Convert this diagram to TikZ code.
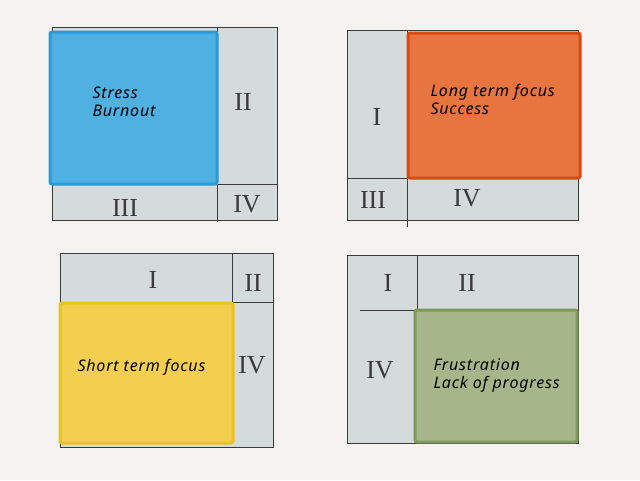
\documentclass[tikz,border=0pt]{standalone}
\usepackage{fontspec}
\setmainfont{Liberation Serif}
\newfontfamily\handfont[LetterSpace=5]{Noto Sans}
\definecolor{bg}{HTML}{F4F3F1}
\definecolor{panelgray}{HTML}{D5DADB}
\definecolor{lineink}{HTML}{3A3A3A}
\definecolor{bluefill}{HTML}{4FB0E2}
\definecolor{blueedge}{HTML}{2A9BD8}
\definecolor{orangefill}{HTML}{E8743F}
\definecolor{orangeedge}{HTML}{D84A12}
\definecolor{yellowfill}{HTML}{F4CE4E}
\definecolor{yellowedge}{HTML}{E9C21F}
\definecolor{greenfill}{HTML}{A6B68A}
\definecolor{greenedge}{HTML}{7D995A}
\tikzset{
  panel/.style={fill=panelgray, draw=lineink, line width=0.9pt},
  divider/.style={draw=lineink, line width=0.9pt},
  hot/.style={line width=3pt, rounded corners=2pt},
  numeral/.style={font=\fontsize{26}{28}\selectfont, text=lineink},
  label/.style={font=\handfont\itshape\fontsize{16}{18}\selectfont, text=black, align=left, anchor=west}
}
\begin{document}
\begin{tikzpicture}[x=1pt,y=-1pt]
\useasboundingbox (0,0) rectangle (640,480);
\fill[bg] (0,0) rectangle (640,480);

% ---------- Panel 1 (top-left) ----------
\path[panel] (52,27) rectangle (277,220);
\draw[divider] (52,184) -- (277,184);
\draw[divider] (217,27) -- (217,222);
\path[hot, fill=bluefill, draw=blueedge] (50,32) rectangle (217,184);
\node[label] (p1text) at (89,102) {Stress\\Burnout};
\node[numeral] (p1two) at (243,102) {II};
\node[numeral] (p1three) at (125,208) {III};
\node[numeral] (p1four) at (247,204) {IV};

% ---------- Panel 2 (top-right) ----------
\path[panel] (347,30) rectangle (578,220);
\draw[divider] (347,178) -- (578,178);
\draw[divider] (407,30) -- (407,227);
\path[hot, fill=orangefill, draw=orangeedge] (408,33) rectangle (580,178);
\node[label] (p2text) at (427,99) {Long term focus\\Success};
\node[numeral] (p2one) at (377,117) {I};
\node[numeral] (p2three) at (373,200) {III};
\node[numeral] (p2four) at (467,198) {IV};

% ---------- Panel 3 (bottom-left) ----------
\path[panel] (60,253) rectangle (273,447);
\draw[divider] (60,302) -- (273,302);
\draw[divider] (232,253) -- (232,302);
\path[hot, fill=yellowfill, draw=yellowedge] (60,303) rectangle (233,443);
\node[label] (p3text) at (74,367) {Short term focus};
\node[numeral] (p3one) at (153,280) {I};
\node[numeral] (p3two) at (253,283) {II};
\node[numeral] (p3four) at (252,365) {IV};

% ---------- Panel 4 (bottom-right) ----------
\path[panel] (347,255) rectangle (578,443);
\draw[divider] (360,310) -- (578,310);
\draw[divider] (417,255) -- (417,310);
\path[hot, fill=greenfill, draw=greenedge] (415,310) rectangle (577,442);
\node[label] (p4text) at (430,376) {Frustration\\Lack of progress};
\node[numeral] (p4one) at (388,283) {I};
\node[numeral] (p4two) at (467,283) {II};
\node[numeral] (p4four) at (380,370) {IV};
\end{tikzpicture}
\end{document}
